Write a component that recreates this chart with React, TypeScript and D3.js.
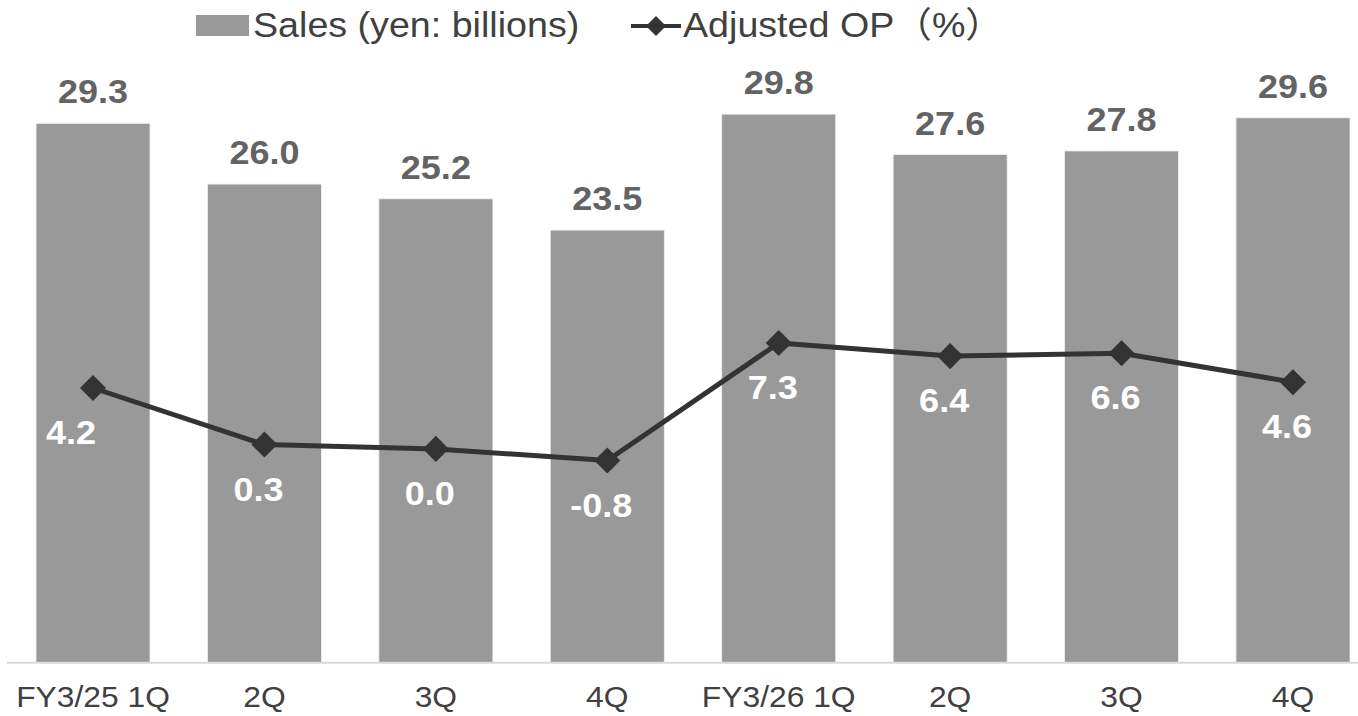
import React from "react";
import * as d3 from "d3";

// Quarterly sales (yen, billions) and adjusted operating profit margin (%)
const categories = ["FY3/25 1Q", "2Q", "3Q", "4Q", "FY3/26 1Q", "2Q ", "3Q ", "4Q "];
const sales = [29.3, 26.0, 25.2, 23.5, 29.8, 27.6, 27.8, 29.6];
const adjustedOP = [4.2, 0.3, 0.0, -0.8, 7.3, 6.4, 6.6, 4.6];
const legendLabels = ["Sales (yen: billions)", "Adjusted OP（%）"];

const W = 1358;
const H = 716;
const FONT = '"Liberation Sans", Arial, "Noto Sans CJK JP", sans-serif';
const STRETCH = 1.06;

const BAR_COLOR = "#999999";
const LINE_COLOR = "#333333";
const TEXT_COLOR = "#404040";

const x = d3
  .scaleBand<string>()
  .domain(categories)
  .range([7.3, 1378.7])
  .paddingInner(0.335)
  .paddingOuter(0.1675);

const ySales = d3.scaleLinear().domain([0, 36]).range([662.7, 0]);
const yOP = d3.scaleLinear().domain([-15, 30]).range([666.4, 13.9]);

const diamond = d3.symbol().type(d3.symbolSquare);

function Label(props: {
  x: number;
  y: number;
  text: string;
  size: number;
  fill: string;
  bold?: boolean;
  anchor?: "start" | "middle" | "end";
}) {
  const { x: tx, y: ty, text, size, fill, bold, anchor = "middle" } = props;
  return (
    <text
      transform={`translate(${tx},${ty}) scale(${STRETCH},1)`}
      textAnchor={anchor}
      fontFamily={FONT}
      fontSize={size}
      fontWeight={bold ? 700 : 400}
      fill={fill}
    >
      {text}
    </text>
  );
}

export default function App() {
  const cx = (i: number) => (x(categories[i]) as number) + x.bandwidth() / 2;
  const linePath = d3
    .line<number>()
    .x((_, i) => cx(i))
    .y((d) => yOP(d))(adjustedOP) as string;

  return (
    <svg
      width={W}
      height={H}
      style={{ position: "absolute", left: 0, top: 0, background: "#ffffff" }}
    >
      {/* bars */}
      {sales.map((v, i) => (
        <rect
          key={"b" + i}
          x={x(categories[i])}
          y={ySales(v)}
          width={x.bandwidth()}
          height={ySales(0) - ySales(v)}
          fill={BAR_COLOR}
          stroke="#f2f2f2"
          strokeWidth={0.75}
        />
      ))}

      {/* category axis */}
      <line x1={7} x2={W} y1={ySales(0)} y2={ySales(0)} stroke="#d9d9d9" strokeWidth={2} />
      {categories.map((c, i) => (
        <Label key={"x" + i} x={cx(i)} y={707} text={c.trim()} size={30} fill={TEXT_COLOR} />
      ))}

      {/* bar value labels */}
      {sales.map((v, i) => (
        <Label
          key={"bl" + i}
          x={cx(i)}
          y={ySales(v) - 20}
          text={v.toFixed(1)}
          size={34}
          fill="#636363"
          bold
        />
      ))}

      {/* margin line */}
      <path d={linePath} fill="none" stroke={LINE_COLOR} strokeWidth={5} strokeLinejoin="round" />
      {adjustedOP.map((v, i) => (
        <path
          key={"m" + i}
          d={diamond.size(340)() as string}
          transform={`translate(${cx(i)},${yOP(v)}) rotate(45)`}
          fill={LINE_COLOR}
        />
      ))}
      {adjustedOP.map((v, i) => (
        <Label
          key={"ll" + i}
          x={cx(i) - (i === 0 ? 22 : 6)}
          y={yOP(v) + 56}
          text={v.toFixed(1)}
          size={34}
          fill="#ffffff"
          bold
        />
      ))}

      {/* legend */}
      <rect x={196} y={15} width={53} height={21} fill={BAR_COLOR} />
      <Label x={253} y={37} text={legendLabels[0]} size={35.5} fill={TEXT_COLOR} anchor="start" />
      <line x1={631} x2={681} y1={26} y2={26} stroke={LINE_COLOR} strokeWidth={4} />
      <path
        d={diamond.size(200)() as string}
        transform={`translate(656,26) rotate(45)`}
        fill={LINE_COLOR}
      />
      <Label x={683} y={37} text={legendLabels[1]} size={35.5} fill={TEXT_COLOR} anchor="start" />
    </svg>
  );
}
